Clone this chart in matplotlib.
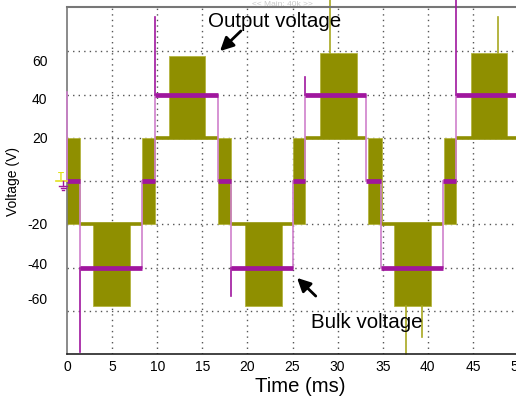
import matplotlib
matplotlib.use('Agg')
import matplotlib.pyplot as plt
from matplotlib.transforms import ScaledTranslation
from matplotlib.lines import Line2D

# ---------------- data ----------------
# Bulk voltage (magenta): piecewise-constant levels between edges (ms, V)
bulk_edges = [0, 1.45, 8.3, 9.8, 16.7, 18.2, 25.1, 26.4, 33.2, 34.8, 41.7, 43.1, 50]
bulk_levels = [0, -40, 0, 40, 0, -40, 0, 40, 0, -40, 0, 40]
# switching spikes on bulk trace
bulk_spike_t = [0.0, 1.45, 9.8, 18.2, 26.4, 43.1]
bulk_spike_from = [0, -40, 40, -40, 40, 40]
bulk_spike_to = [41, -79, 76, -53, 48, 84]

# Output voltage (olive): plateaus
out_plat_start = [1.45, 9.8, 18.2, 26.4, 34.8, 43.1]
out_plat_end = [8.3, 16.7, 25.1, 33.2, 41.7, 50]
out_plat_v = [-20, 20, -20, 20, -20, 20]
# PWM switching envelopes (filled blocks)
pwm_start = [0.0, 2.9, 8.3, 11.3, 16.7, 19.7, 25.1, 28.0, 33.4, 36.3, 41.8, 44.8]
pwm_end = [1.45, 7.0, 9.8, 15.3, 18.2, 23.8, 26.4, 32.1, 34.9, 40.4, 43.1, 48.8]
pwm_low = [-20, -58, -20, 20, -20, -58, -20, 20, -20, -58, -20, 20]
pwm_high = [20, -20, 20, 58, 20, -20, 20, 59, 20, -20, 20, 59]
# spikes on output trace
out_spike_t = [29.2, 37.6, 39.4, 47.8]
out_spike_from = [59, -58, -58, 59]
out_spike_to = [84, -80, -72, 76]

xticks = [0, 5, 10, 15, 20, 25, 30, 35, 40, 45, 50]
ygrid = [-60, -40, -20, 0, 20, 40, 60]
ytick_labels = ['-60', '-40', '-20', '', '20', '40', '60']

# ---------------- style ----------------
OLIVE = '#8F8F00'
MAG = '#A0169E'
MAG_LIGHT = '#CF80CC'
YEL = '#E2E21E'
W, H, DPI = 516, 404, 100

plt.rcParams['font.family'] = ['Liberation Sans', 'DejaVu Sans']

fig = plt.figure(figsize=(W / DPI, H / DPI), dpi=DPI)
ax = fig.add_axes([67 / W, (H - 354) / H, (518 - 67) / W, (354 - 7) / H])
ax.set_xlim(0, 50)
ax.set_ylim(-80, 80.5)

# grid
for g in xticks[1:-1]:
    ax.axvline(g, color='#555555', lw=1, ls=(0, (1, 3)), zorder=1)
for g in ygrid:
    ax.axhline(g, color='#555555', lw=1, ls=(0, (1, 3)), zorder=1)

# output voltage
for s, e, lo, hi in zip(pwm_start, pwm_end, pwm_low, pwm_high):
    ax.bar(s, hi - lo, width=e - s, bottom=lo, align='edge',
           color=OLIVE, edgecolor='#B5B540', linewidth=0.6, zorder=2)
ax.hlines(out_plat_v, out_plat_start, out_plat_end, color=OLIVE, lw=2.6, zorder=2)
for t, a, b in zip(out_spike_t, out_spike_from, out_spike_to):
    ax.plot([t, t], [a, b], color='#A8A820', lw=1.2, zorder=2, clip_on=False)

# bulk voltage
ax.hlines(bulk_levels, bulk_edges[:-1], bulk_edges[1:], color=MAG, lw=3.4, zorder=4)
for i in range(1, len(bulk_levels)):
    ax.plot([bulk_edges[i], bulk_edges[i]], [bulk_levels[i - 1], bulk_levels[i]],
            color=MAG_LIGHT, lw=1.2, zorder=3)
for t, a, b in zip(bulk_spike_t, bulk_spike_from, bulk_spike_to):
    ax.plot([t, t], [a, b], color=MAG if t > 0 else MAG_LIGHT, lw=1.2, zorder=4, clip_on=False)

# spines
ax.spines['right'].set_visible(False)
ax.spines['left'].set_color('#777777')
ax.spines['top'].set_color('#777777')
ax.spines['top'].set_linewidth(1.5)
ax.spines['left'].set_linewidth(1.2)
ax.spines['bottom'].set_color('#222222')
ax.spines['bottom'].set_linewidth(1.2)

# ticks
ax.set_xticks(xticks)
ax.set_xticklabels([str(x) for x in xticks], fontsize=10)
ax.set_yticks(ygrid)
ax.set_yticklabels(ytick_labels, fontsize=10)
ax.tick_params(axis='both', length=0)
ax.tick_params(axis='x', pad=4)
ax.tick_params(axis='y', pad=14)
# overlay-style label offsets (pixels, +down)
label_shift_px = {'60': 9, '40': 3.5, '20': -0.5, '-20': -1, '-40': -4.5, '-60': -12}
for lab in ax.get_yticklabels():
    txt = lab.get_text()
    if txt in label_shift_px:
        dy = -label_shift_px[txt] / DPI
        lab.set_transform(lab.get_transform() + ScaledTranslation(0, dy, fig.dpi_scale_trans))

ax.set_ylabel('Voltage (V)', fontsize=10)
ax.yaxis.set_label_coords((20 - 67) / 451, (354 - 182) / 347)
ax.set_xlabel('Time (ms)', fontsize=14.6)
ax.xaxis.set_label_coords((300 - 67) / 451, (354 - 387) / 347)
ax.xaxis.label.set_va('center')

# annotations
ax.annotate('', xy=(16.74, 59.2), xytext=(19.5, 70.3),
            arrowprops=dict(arrowstyle='-|>', color='black', lw=2, mutation_scale=20), zorder=6)
ax.text(23.0, 74.0, 'Output voltage', fontsize=14.8, ha='center', va='center', zorder=6)
ax.annotate('', xy=(25.28, -43.9), xytext=(27.8, -54.1),
            arrowprops=dict(arrowstyle='-|>', color='black', lw=2, mutation_scale=20), zorder=6)
ax.text(33.26, -65.2, 'Bulk voltage', fontsize=14.8, ha='center', va='center', zorder=6)

# faint scope header
fig.text(252 / W, 1 - 5 / H, '<< Main: 40k >>', fontsize=6, color='#C8C8C8', va='center', zorder=0)

# trigger / ground markers (scope channel markers, drawn in figure pixels)
def px_line(xs, ys, color, lw=1.0):
    fig.add_artist(Line2D([x / W for x in xs], [1 - y / H for y in ys],
                          color=color, lw=lw, transform=fig.transFigure))

fig.text(57.5 / W, 1 - 177 / H, 'T', fontsize=7, color=YEL, va='center', fontweight='bold')
px_line([56, 67], [181, 181], YEL, 1.2)
px_line([63, 63], [181, 186], MAG, 1.0)
px_line([59, 67], [186, 186], MAG, 1.0)
px_line([60.5, 65.5], [188, 188], MAG, 1.0)
px_line([62, 64], [190, 190], MAG, 1.0)

fig.savefig('out.png', dpi=DPI)
